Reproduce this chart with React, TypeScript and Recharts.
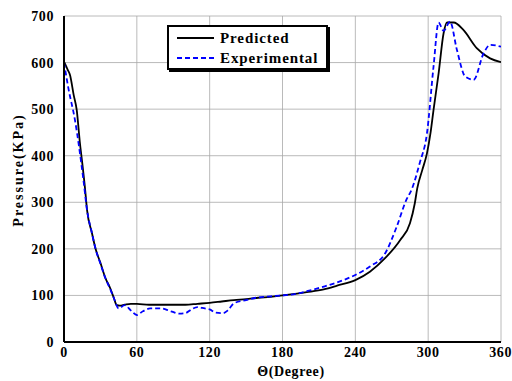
import React from "react";
import { Line, LineChart, ReferenceLine, XAxis, YAxis } from "recharts";

const predictedDeg = [
  0, 3, 5, 8, 10.5, 13, 15, 17.3, 19, 23, 26, 30, 34, 38, 41, 43.5, 46, 50, 55,
  60, 70, 80, 90, 100, 110, 120, 130, 140, 150, 160, 170, 180, 192, 200, 214,
  225, 240, 252, 264.5, 277, 285, 289, 291, 295, 299, 302, 304.4, 308.6, 312.7,
  315.5, 321, 329, 340, 351, 360,
];
const predictedKpa = [
  602, 585, 573, 530, 498, 430, 385, 330, 283, 234, 200, 170, 138, 116, 95, 79,
  78, 80, 82, 82, 80, 80, 80, 80, 82, 84, 87, 90, 92, 95, 97, 100, 104, 107, 113,
  121, 133, 151, 180, 219, 255, 298, 330, 368, 405, 450, 498, 577, 663, 686, 686,
  670, 631, 609, 601,
];

const experimentalDeg = [
  0, 3.6, 9, 16, 19, 23, 26, 30, 34, 38, 41, 45, 50, 55, 60, 65, 71, 80, 88, 95,
  100, 105, 110, 116, 120, 125, 131, 135, 140, 150, 158, 170, 180, 192, 200, 214,
  225, 240, 252, 264.5, 274, 282, 286.5, 293, 299, 304.4, 308.6, 312.7, 318,
  323.7, 330.5, 337.4, 345.7, 351, 360,
];
const experimentalKpa = [
  600, 545, 477, 348, 283, 234, 200, 168, 138, 114, 95, 72, 79, 68, 58, 66, 72,
  72, 66, 61, 62, 70, 75, 72, 70, 63, 62, 68, 83, 90, 95, 98, 100, 104, 109, 119,
  128, 144, 162, 190, 247, 305, 328, 384, 448, 591, 686, 668, 688, 627, 570, 563,
  620, 638, 634,
];

const xTicks = [0, 60, 120, 180, 240, 300, 360];
const yTicks = [0, 100, 200, 300, 400, 500, 600, 700];
const seriesNames = ["Predicted", "Experimental"];

const predictedData = predictedDeg.map((d, i) => ({ deg: d, kpa: predictedKpa[i] }));
const experimentalData = experimentalDeg.map((d, i) => ({ deg: d, kpa: experimentalKpa[i] }));

const font = "'Liberation Serif', 'Times New Roman', serif";
const tickStyle = { fontFamily: font, fontWeight: 700, fontSize: 14, fill: "#000", letterSpacing: 0.6 };
const gridColor = "#a8a8a8";

const noTick = () => <g />;

const LegendBox = () => (
  <div
    style={{
      position: "absolute",
      left: 167,
      top: 25,
      width: 157,
      height: 41,
      border: "2px solid #000",
      boxShadow: "2px 2px 0 #000",
      background: "#fff",
      fontFamily: font,
      fontWeight: 700,
      fontSize: 15,
      letterSpacing: 0.9,
    }}
  >
    {seriesNames.map((name, i) => (
      <div key={name} style={{ display: "flex", alignItems: "center", height: 20, marginTop: i === 0 ? 1 : 0 }}>
        <svg width={51} height={10}>
          <line
            x1={8}
            x2={45}
            y1={5}
            y2={5}
            stroke={i === 0 ? "#000" : "#0000ff"}
            strokeWidth={2}
            strokeDasharray={i === 0 ? undefined : "5 3"}
          />
        </svg>
        <span>{name}</span>
      </div>
    ))}
  </div>
);

const XLabel = () => (
  <text x={291} y={376} textAnchor="middle" style={tickStyle}>
    {"\u0398(Degree)"}
  </text>
);

const YLabel = () => (
  <text x={23} y={170} transform="rotate(-90 23 170)" textAnchor="middle" style={{ ...tickStyle, letterSpacing: 2 }}>
    Pressure(KPa)
  </text>
);

export default function App() {
  return (
    <div style={{ position: "absolute", left: 0, top: 0, width: 512, height: 381 }}>
      <LineChart width={512} height={381} margin={{ top: 16, right: 11, left: 0, bottom: 0 }}>
        {xTicks.map((t) => (
          <ReferenceLine key={`gx-${t}`} xAxisId="b" yAxisId="l" x={t} stroke={gridColor} strokeWidth={0.8} />
        ))}
        {yTicks.map((t) => (
          <ReferenceLine key={`gy-${t}`} xAxisId="b" yAxisId="l" y={t} stroke={gridColor} strokeWidth={0.8} />
        ))}
        <XAxis
          xAxisId="b"
          dataKey="deg"
          type="number"
          domain={[0, 360]}
          ticks={xTicks}
          height={39}
          tick={tickStyle}
          tickLine={false}
          tickMargin={-1}
          axisLine={{ stroke: "#000", strokeWidth: 2 }}
          allowDataOverflow
          label={<XLabel />}
        />
        <XAxis
          xAxisId="t"
          orientation="top"
          dataKey="deg"
          type="number"
          domain={[0, 360]}
          ticks={xTicks}
          height={0}
          mirror
          tick={noTick}
          tickSize={4}
          tickLine={{ stroke: "#000" }}
          axisLine={{ stroke: "#000", strokeWidth: 2 }}
        />
        <YAxis
          yAxisId="l"
          type="number"
          domain={[0, 700]}
          ticks={yTicks}
          width={64}
          tick={tickStyle}
          tickLine={false}
          tickMargin={4}
          axisLine={{ stroke: "#000", strokeWidth: 2 }}
          label={<YLabel />}
        />
        <YAxis
          yAxisId="r"
          orientation="right"
          type="number"
          domain={[0, 700]}
          ticks={yTicks}
          width={0}
          mirror
          tick={noTick}
          tickSize={4}
          tickLine={{ stroke: "#000" }}
          axisLine={{ stroke: "#000", strokeWidth: 2 }}
        />
        <Line
          xAxisId="b"
          yAxisId="l"
          data={predictedData}
          dataKey="kpa"
          name={seriesNames[0]}
          type="monotone"
          stroke="#000"
          strokeWidth={1.8}
          dot={false}
          isAnimationActive={false}
        />
        <Line
          xAxisId="b"
          yAxisId="l"
          data={experimentalData}
          dataKey="kpa"
          name={seriesNames[1]}
          type="monotone"
          stroke="#0000ff"
          strokeWidth={1.8}
          strokeDasharray="5 3"
          dot={false}
          isAnimationActive={false}
        />
      </LineChart>
      <LegendBox />
    </div>
  );
}
